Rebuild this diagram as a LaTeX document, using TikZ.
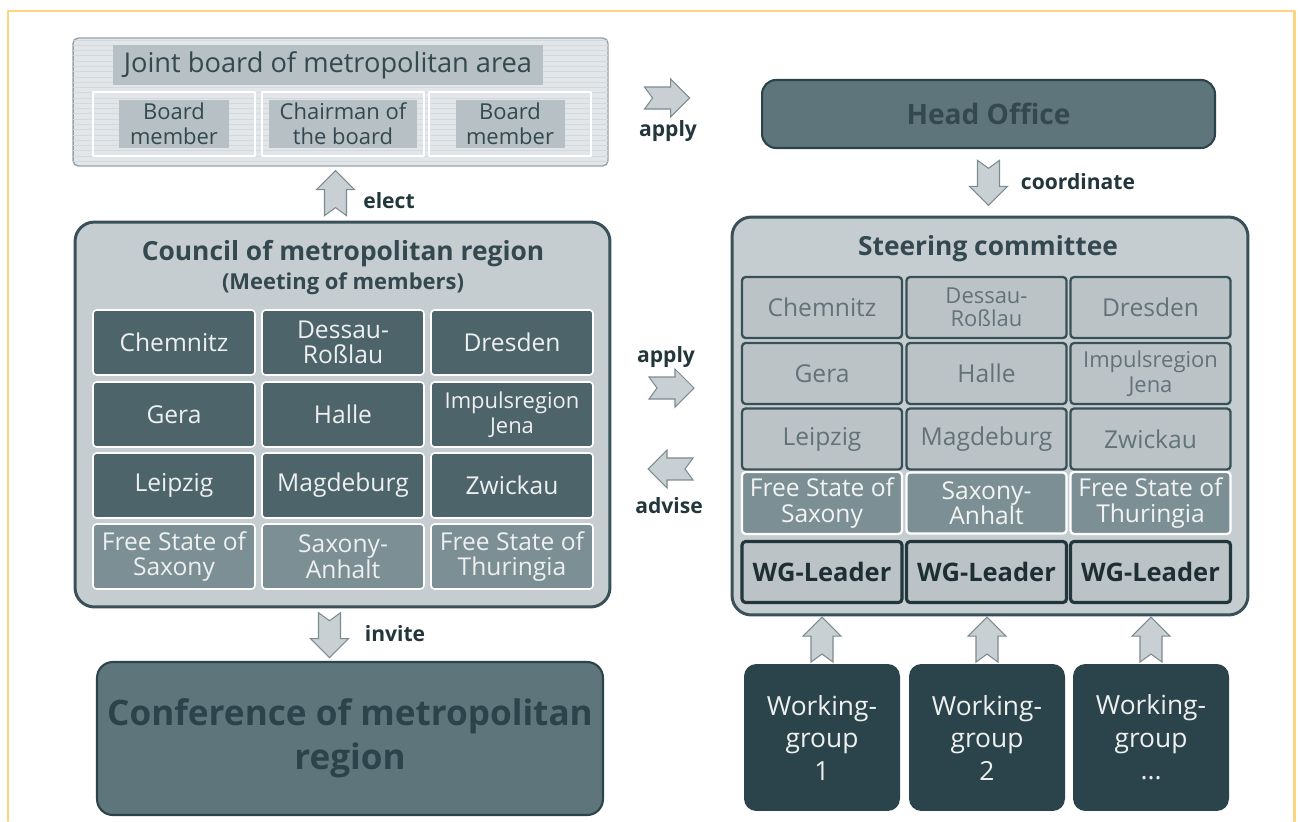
\documentclass[tikz,border=0pt]{standalone}
\usepackage{fontspec}
\setmainfont{Open Sans}
\usepackage{tikz}
\usetikzlibrary{positioning,patterns,calc}

\definecolor{frameyel}{HTML}{FFD47F}
\definecolor{slatedark}{HTML}{2B434A}
\definecolor{slatemid}{HTML}{4E646B}
\definecolor{slatelight}{HTML}{7C8F95}
\definecolor{panelgrey}{HTML}{C6CDD1}
\definecolor{panelline}{HTML}{3A5058}
\definecolor{headfill}{HTML}{5F757C}
\definecolor{textdark}{HTML}{34484F}
\definecolor{arrowfill}{HTML}{C9D0D3}
\definecolor{arrowline}{HTML}{7C8B91}
\definecolor{jointfill}{HTML}{E3E6E8}
\definecolor{jointhl}{HTML}{B6C0C5}

\tikzset{
  panel/.style={draw=panelline, line width=1.7pt, fill=panelgrey, rounded corners=11pt},
  jointbox/.style={draw=arrowline!80, line width=0.8pt, fill=jointfill, rounded corners=3pt,
    postaction={pattern=horizontal lines, pattern color=jointhl!60},
    minimum width=10.7cm, minimum height=2.56cm},
  subframe/.style={draw=white, line width=1.2pt, minimum width=3.24cm, minimum height=1.28cm},
  boardtxt/.style={fill=jointhl, text=textdark, align=center, inner xsep=6pt, inner ysep=2pt,
    font=\fontsize{12.5}{14}\selectfont},
  councell/.style={fill=slatemid, draw=white, line width=0.9pt, rounded corners=2pt, text=white!90!slatemid,
    minimum width=3.24cm, minimum height=1.3cm, align=center, font=\fontsize{14}{14.5}\selectfont},
  counstate/.style={councell, fill=slatelight},
  steercell/.style={fill=panelgrey!95!black, draw=panelline, line width=1.3pt, rounded corners=2pt,
    text=panelline!80, minimum width=3.2cm, minimum height=1.22cm, align=center,
    font=\fontsize{14}{14.5}\selectfont},
  steerstate/.style={steercell, fill=slatelight, draw=white, text=white!90!slatelight},
  wglead/.style={steercell, draw=slatedark!80!black, line width=1.8pt, text=slatedark!70!black,
    font=\bfseries\fontsize{14.5}{15}\selectfont},
  wgroup/.style={fill=slatedark, rounded corners=7pt, text=white!92!slatedark, align=center,
    minimum width=3.12cm, minimum height=2.94cm, font=\fontsize{15}{18.5}\selectfont},
  lbl/.style={text=slatedark!80!black, font=\bfseries\fontsize{12}{13}\selectfont},
  blockarr/.pic={\draw[arrowline, fill=arrowfill, line width=0.6pt, line join=miter]
    (-22,-11) -- (4,-11) -- (4,-19) -- (23,0) -- (4,19) -- (4,11) -- (-22,11) -- (-14,0) -- cycle;}
}

\begin{document}
\begin{tikzpicture}[x=0.02cm,y=-0.02cm,line cap=round,line join=round]
\useasboundingbox (0,0) rectangle (1300,821);
\draw[frameyel, line width=1.7pt] (8,821) -- (8,11) -- (1294,11) -- (1294,821);

% joint board
\node[jointbox] (joint) at (340.5,102) {};
\node[fill=jointhl, text=textdark, minimum width=8.6cm, minimum height=0.74cm,
  font=\fontsize{15.5}{17}\selectfont] (jtitle) at (328,65) {Joint board of metropolitan area};
\node[subframe] (jf1) at (174,124) {};
\node[subframe] (jf2) at (343,124) {};
\node[subframe] (jf3) at (510,124) {};
\node[boardtxt] (jm1) at (jf1) {Board\\member};
\node[boardtxt] (jm2) at (jf2) {Chairman of\\the board};
\node[boardtxt] (jm3) at (jf3) {Board\\member};

% head office
\node[draw=slatedark, line width=1.2pt, fill=headfill, rounded corners=8pt, text=textdark,
  minimum width=9.06cm, minimum height=1.36cm, font=\bfseries\fontsize{16}{17}\selectfont]
  (head) at (988.5,114) {Head Office};

% council
\node[panel, minimum width=10.7cm, minimum height=7.7cm] (council) at (342.5,414.5) {};
\node[text=textdark, font=\bfseries\fontsize{15}{16}\selectfont] (ctitle) at (343,254) {Council of metropolitan region};
\node[text=textdark, font=\bfseries\fontsize{12.5}{13}\selectfont] (csub) at (343,284) {(Meeting of members)};
\node[councell] (c11) at (174,342.5) {Chemnitz};
\node[councell] (c12) at (343,342.5) {Dessau-\\Roßlau};
\node[councell] (c13) at (512,342.5) {Dresden};
\node[councell] (c21) at (174,414.5) {Gera};
\node[councell] (c22) at (343,414.5) {Halle};
\node[councell, font=\fontsize{12.5}{14.5}\selectfont] (c23) at (512,414.5) {Impulsregion\\Jena};
\node[councell] (c31) at (174,485.5) {Leipzig};
\node[councell] (c32) at (343,485.5) {Magdeburg};
\node[councell] (c33) at (512,485.5) {Zwickau};
\node[counstate] (c41) at (174,556.5) {Free State of\\Saxony};
\node[counstate] (c42) at (343,556.5) {Saxony-\\Anhalt};
\node[counstate] (c43) at (512,556.5) {Free State of\\Thuringia};

% conference
\node[draw=slatedark, line width=1.2pt, fill=headfill, rounded corners=9pt, text=slatedark,
  minimum width=10.12cm, minimum height=3.06cm, align=center,
  font=\bfseries\fontsize{20}{25}\selectfont] (conf) at (350,738.5) {Conference of metropolitan\\region};

% steering committee
\node[panel, minimum width=10.32cm, minimum height=7.96cm] (steer) at (990,416) {};
\node[text=textdark, font=\bfseries\fontsize{15}{16}\selectfont] (stitle) at (988,249) {Steering committee};
\node[steercell] (s11) at (822,307.5) {Chemnitz};
\node[steercell, font=\fontsize{12.5}{13}\selectfont] (s12) at (986.5,307.5) {Dessau-\\Roßlau};
\node[steercell] (s13) at (1150.5,307.5) {Dresden};
\node[steercell] (s21) at (822,373.5) {Gera};
\node[steercell] (s22) at (986.5,373.5) {Halle};
\node[steercell, font=\fontsize{12.5}{14}\selectfont] (s23) at (1150.5,373.5) {Impulsregion\\Jena};
\node[steercell] (s31) at (822,439) {Leipzig};
\node[steercell] (s32) at (986.5,439) {Magdeburg};
\node[steercell] (s33) at (1150.5,439) {Zwickau};
\node[steerstate] (s41) at (822,503) {Free State of\\Saxony};
\node[steerstate] (s42) at (986.5,503) {Saxony-\\Anhalt};
\node[steerstate] (s43) at (1150.5,503) {Free State of\\Thuringia};
\node[wglead] (s51) at (822,572) {WG-Leader};
\node[wglead] (s52) at (986.5,572) {WG-Leader};
\node[wglead] (s53) at (1150.5,572) {WG-Leader};

% working groups
\node[wgroup] (wg1) at (822,737.5) {Working-\\group\\1};
\node[wgroup] (wg2) at (987,737.5) {Working-\\group\\2};
\node[wgroup] (wg3) at (1151,737.5) {Working-\\group\\...};

% block arrows
\path ([yshift=0.08cm]joint.east) -- ([yshift=0.08cm]joint.east -| head.west) pic[pos=0.38, sloped] {blockarr};
\path (head.south) -- (head.south |- steer.north) pic[pos=0.5, sloped] {blockarr};
\path ([xshift=-0.14cm]council.north) -- ([xshift=-0.14cm]council.north |- joint.south) pic[pos=0.5, sloped] {blockarr};
\path ([xshift=-0.26cm]council.south) -- ([xshift=-0.26cm]council.south |- conf.north) pic[pos=0.5, sloped] {blockarr};
\path ([yshift=0.53cm]council.east) -- ([yshift=0.53cm]council.east -| steer.west) pic[pos=0.5, sloped] {blockarr};
\path ([yshift=-1.09cm]council.east -| steer.west) -- ([yshift=-1.09cm]council.east) pic[pos=0.5, sloped, allow upside down] {blockarr};
\path (wg1.north) -- (wg1.north |- steer.south) pic[pos=0.5, sloped] {blockarr};
\path (wg2.north) -- (wg2.north |- steer.south) pic[pos=0.5, sloped] {blockarr};
\path (wg3.north) -- (wg3.north |- steer.south) pic[pos=0.5, sloped] {blockarr};

% labels
\node[lbl] (lapply1) at (668,131) {apply};
\node[lbl] (lcoord) at (1078,182) {coordinate};
\node[lbl] (lelect) at (389,201) {elect};
\node[lbl] (linvite) at (395,634) {invite};
\node[lbl] (lapply2) at (666,357) {apply};
\node[lbl] (ladvise) at (669,506) {advise};
\end{tikzpicture}
\end{document}
